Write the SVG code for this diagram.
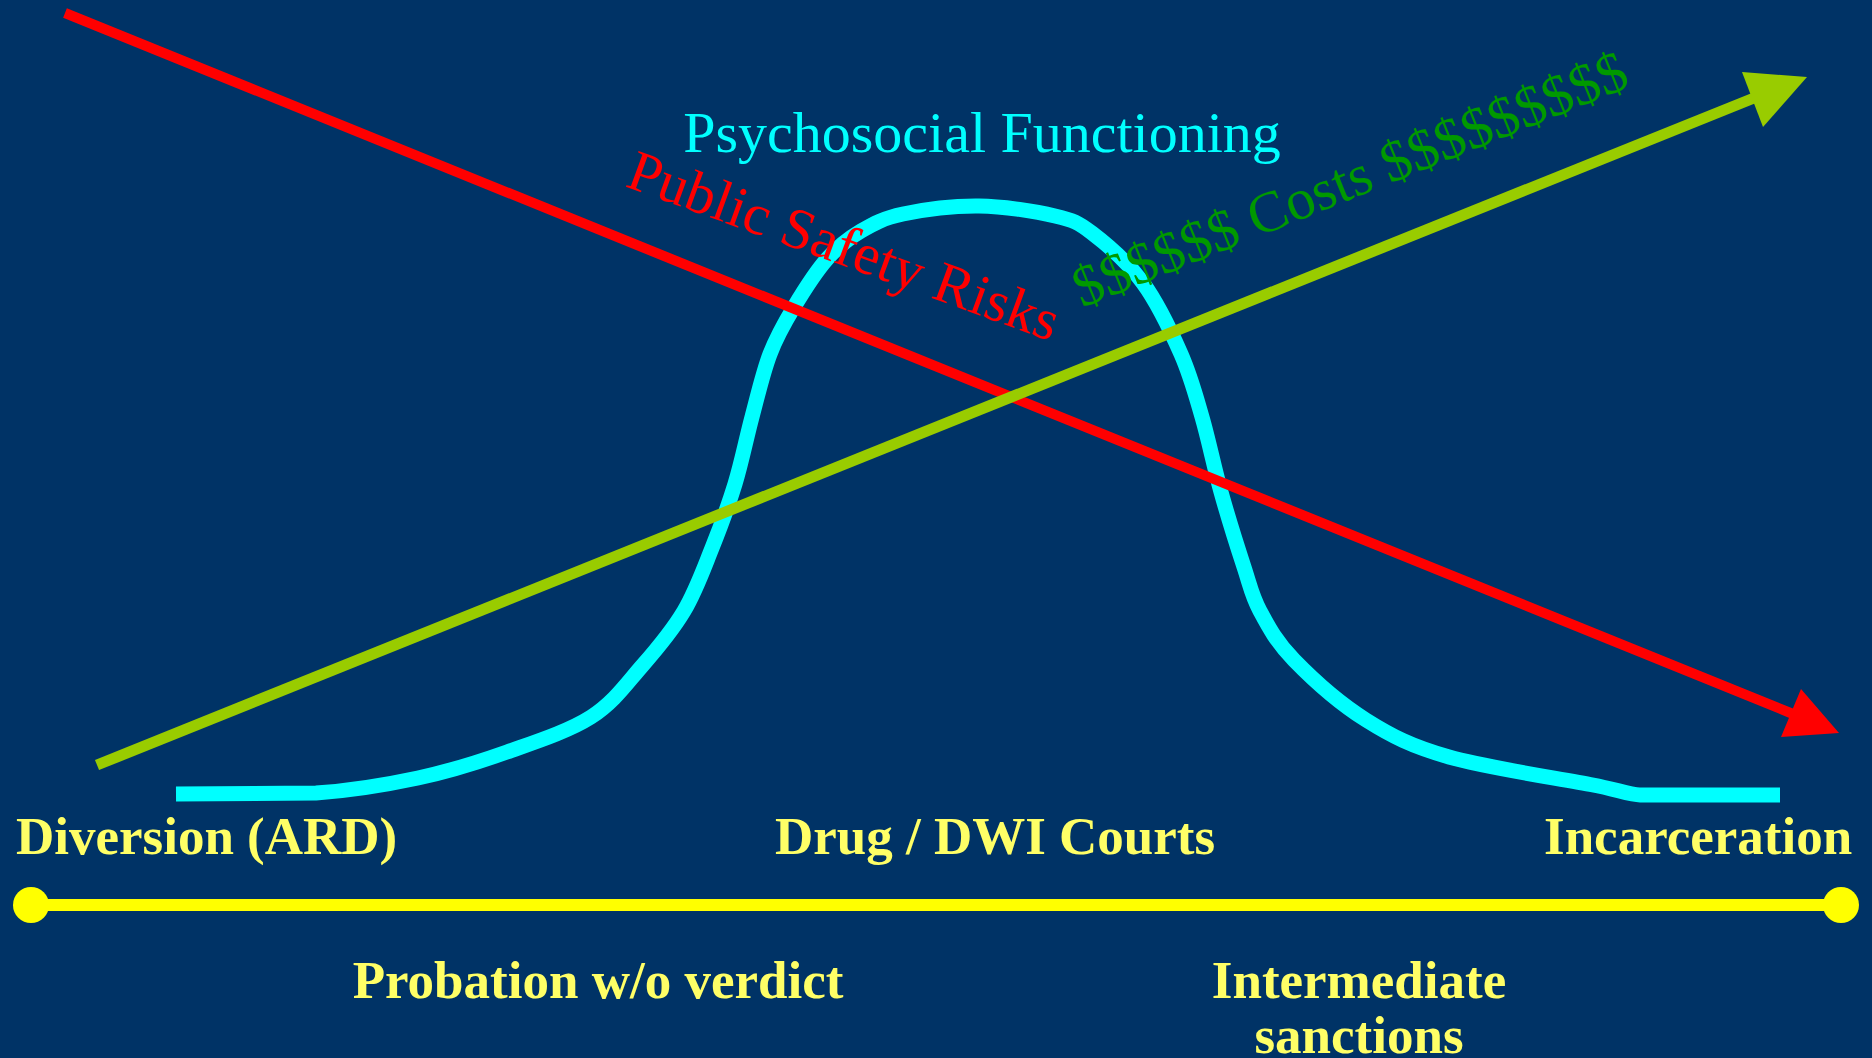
<svg xmlns="http://www.w3.org/2000/svg" width="1872" height="1058" viewBox="0 0 1872 1058">
<style>
.lbl{font-family:"Liberation Serif","Times New Roman",serif;font-weight:bold;font-size:53px;fill:#FFFF66}
.big{font-family:"Liberation Serif","Times New Roman",serif;font-size:58px}
</style>
<rect x="0" y="0" width="1872" height="1058" fill="#003366"/>
<g id="curve">
<path fill="none" stroke="#00FFFF" stroke-width="15" stroke-linejoin="round" d="M176,794 L316,793 C356.3,790.3 386.2,784.8 418,778 C449.8,771.2 478.2,762.2 507,752 C535.8,741.8 568.5,731.3 591,717 C613.5,702.7 626.5,683.7 642,666 C657.5,648.3 672.3,630.7 684,611 C695.7,591.3 703.5,569.2 712,548 C720.5,526.8 728.3,505.8 735,484 C741.7,462.2 746.2,438.7 752,417 C757.8,395.3 763,372.3 770,354 C777,335.7 784.5,322.8 794,307 C803.5,291.2 815.8,271.7 827,259 C838.2,246.3 848.3,238.5 861,231 C873.7,223.5 883.3,218.2 903,214 C922.7,209.8 953.7,205.7 979,206 C1004.3,206.3 1036.2,211.5 1055,216 C1073.8,220.5 1077.3,221.8 1092,233 C1106.7,244.2 1128.2,262.8 1143,283 C1157.8,303.2 1171.2,331.7 1181,354 C1190.8,376.3 1195.3,394 1202,417 C1208.7,440 1214,467 1221,492 C1228,517 1237.5,547.2 1244,567 C1250.5,586.8 1251.7,595.5 1260,611 C1268.3,626.5 1276.3,641.8 1294,660 C1311.7,678.2 1340.2,703.8 1366,720 C1391.8,736.2 1411.2,746.2 1449,757 C1486.8,767.8 1561.2,778.7 1593,785 C1615,789 1630,795 1640,795 L1780,795"/>
</g>
<g id="connectors">
<line x1="65" y1="13" x2="1793" y2="714" stroke="#FF0000" stroke-width="10"/>
<polygon points="1839,733 1801,689 1781,737" fill="#FF0000"/>
<line x1="97" y1="765" x2="1754" y2="98" stroke="#99CC00" stroke-width="11"/>
<polygon points="1807,77 1742,72 1763,127" fill="#99CC00"/>
<line x1="31" y1="905" x2="1841" y2="905" stroke="#FFFF00" stroke-width="12"/>
<ellipse cx="31" cy="905" rx="18" ry="18" fill="#FFFF00"/>
<ellipse cx="1841" cy="905" rx="18" ry="18" fill="#FFFF00"/>
</g>
<g id="psychosocial">
<text class="big" x="982" y="152" text-anchor="middle" fill="#00FFFF">Psychosocial Functioning</text>
</g>
<g id="safety">
<text class="big" x="0" y="0" fill="#FF0000" transform="translate(624,186) rotate(20)">Public Safety Risks</text>
</g>
<g id="costs">
<text class="big" x="0" y="0" fill="#009900" transform="translate(1082,308) rotate(-22)">$$$$$$ Costs $$$$$$$$$</text>
</g>
<g id="diversion"><text class="lbl" x="16" y="854">Diversion (ARD)</text></g>
<g id="drugcourts"><text class="lbl" x="995" y="854" text-anchor="middle">Drug / DWI Courts</text></g>
<g id="incarceration"><text class="lbl" x="1544" y="854">Incarceration</text></g>
<g id="probation"><text class="lbl" x="598" y="998" text-anchor="middle">Probation w/o verdict</text></g>
<g id="intermediate"><text class="lbl" x="1359" y="998" text-anchor="middle">Intermediate</text><text class="lbl" x="1359" y="1053" text-anchor="middle">sanctions</text></g>
</svg>
